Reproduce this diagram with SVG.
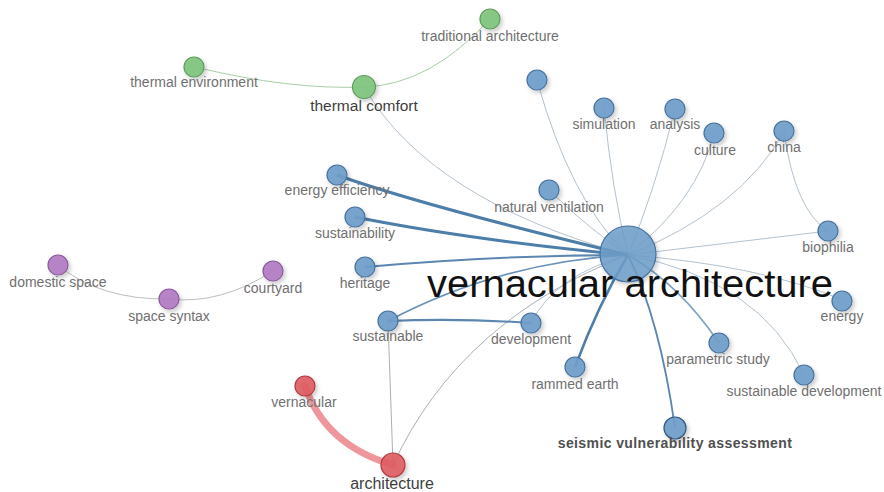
<svg xmlns="http://www.w3.org/2000/svg" width="884" height="492" viewBox="0 0 884 492">
<defs>
<filter id="sh" x="-50%" y="-50%" width="200%" height="200%">
<feDropShadow dx="2" dy="2.5" stdDeviation="2" flood-color="#000" flood-opacity="0.22"/>
</filter>
<style>
.lbl{font-family:"Liberation Sans",Arial,sans-serif;font-size:14px;fill:#707070;text-anchor:middle}
.big{font-family:"Liberation Sans",Arial,sans-serif;font-size:38px;fill:#111;text-anchor:start}
.dk{fill:#3e3e3e}
.bold{font-weight:bold;fill:#505050;letter-spacing:0.4px}
.nb{fill:#6f9dca;stroke:#47729d;stroke-width:1.2;fill-opacity:0.92;filter:url(#sh)}
.ng{fill:#80c47e;stroke:#5e9d5c;stroke-width:1.2;fill-opacity:0.92;filter:url(#sh)}
.np{fill:#b37cc4;stroke:#8a5b9b;stroke-width:1.2;fill-opacity:0.92;filter:url(#sh)}
.nr{fill:#e05c62;stroke:#b13a40;stroke-width:1.2;fill-opacity:0.9;filter:url(#sh)}
#connectors path{fill:none}
.t{stroke:#b3c2d0;stroke-width:1}
.tg{stroke:#a8cda6;stroke-width:1}
.tp{stroke:#bdbdbd;stroke-width:1}
.ta{stroke:#a9b0b8;stroke-width:1}
.s1{stroke:#6a92b9;stroke-width:1.6}
.s2{stroke:#5a86b1;stroke-width:2}
.s3{stroke:#4d7da9;stroke-width:3}
</style>
</defs>
<rect width="884" height="492" fill="#fff"/>
<g id="connectors">
<path class="tg" d="M195,67 Q290,90 364,87"/>
<path class="tg" d="M364,87 Q430,85 490,19"/>
<path class="t" d="M364,87 Q430,200 628,255"/>
<path class="tp" d="M58,265 Q100,300 169,299"/>
<path class="tp" d="M169,299 Q220,305 273,271"/>
<path d="M305,386 Q325,445 393,465" stroke="#ec8b90" stroke-width="7" stroke-linecap="round" opacity="0.9"/>
<path class="ta" d="M393,465 L388,321"/>
<path class="ta" d="M393,465 Q460,320 628,255"/>
<path class="s2" d="M388,321 Q460,318 531,323"/>
<path class="s1" d="M388,321 Q500,262 628,255"/>
<path class="t" d="M531,323 Q555,275 628,255"/>
<path class="s3" style="stroke-width:2.5" d="M575,367 Q598,305 628,255"/>
<path class="s2" style="stroke-width:1.8" d="M675,428 Q660,320 628,255"/>
<path class="s1" style="stroke:#7fa1c1" d="M719,343 Q680,285 628,255"/>
<path class="t" d="M804,375 Q760,280 628,255"/>
<path class="t" d="M843,300 Q760,265 628,255"/>
<path class="t" d="M828,231 L628,255"/>
<path class="t" d="M784,132 Q795,210 828,231"/>
<path class="t" d="M784,132 Q740,210 628,255"/>
<path class="t" d="M714,133 Q698,200 628,255"/>
<path class="t" d="M675,109 Q655,190 628,255"/>
<path class="t" d="M604,108 Q612,190 628,255"/>
<path class="t" d="M537,80 Q570,200 628,255"/>
<path class="t" d="M549,190 Q590,230 628,255"/>
<path class="s3" d="M337,175 Q420,205 628,255"/>
<path class="s3" d="M355,217 Q470,240 628,255"/>
<path class="s2" d="M365,267 Q500,255 628,255"/>
</g>
<g id="n-traditional-architecture"><circle class="ng" cx="490" cy="19" r="10"/><text class="lbl" x="490" y="41">traditional architecture</text></g>
<g id="n-thermal-environment"><circle class="ng" cx="194" cy="67" r="10"/><text class="lbl" x="194" y="87">thermal environment</text></g>
<g id="n-thermal-comfort"><circle class="ng" cx="364" cy="87" r="11.5"/><text class="lbl dk" x="364" y="111" style="font-size:15.5px">thermal comfort</text></g>
<g id="n-blue-unlabeled"><circle class="nb" cx="537" cy="80" r="10"/></g>
<g id="n-simulation"><circle class="nb" cx="604" cy="108" r="10"/><text class="lbl" x="604" y="129">simulation</text></g>
<g id="n-analysis"><circle class="nb" cx="675" cy="109" r="10"/><text class="lbl" x="675" y="129">analysis</text></g>
<g id="n-culture"><circle class="nb" cx="714" cy="133" r="10"/><text class="lbl" x="715" y="155">culture</text></g>
<g id="n-china"><circle class="nb" cx="784" cy="131" r="10"/><text class="lbl" x="784" y="152">china</text></g>
<g id="n-natural-ventilation"><circle class="nb" cx="549" cy="190" r="10"/><text class="lbl" x="549" y="212">natural ventilation</text></g>
<g id="n-energy-efficiency"><circle class="nb" cx="337" cy="175" r="10"/><text class="lbl" x="337" y="195">energy efficiency</text></g>
<g id="n-sustainability"><circle class="nb" cx="355" cy="217" r="10"/><text class="lbl" x="355" y="238">sustainability</text></g>
<g id="n-heritage"><circle class="nb" cx="365" cy="267" r="10"/><text class="lbl" x="365" y="288">heritage</text></g>
<g id="n-biophilia"><circle class="nb" cx="828" cy="231" r="10"/><text class="lbl" x="828" y="252">biophilia</text></g>
<g id="n-energy"><circle class="nb" cx="842" cy="301" r="10"/><text class="lbl" x="842" y="321">energy</text></g>
<g id="n-domestic-space"><circle class="np" cx="58" cy="265" r="10"/><text class="lbl" x="58" y="287">domestic space</text></g>
<g id="n-space-syntax"><circle class="np" cx="169" cy="299" r="10"/><text class="lbl" x="169" y="321">space syntax</text></g>
<g id="n-courtyard"><circle class="np" cx="273" cy="271" r="10"/><text class="lbl" x="273" y="293">courtyard</text></g>
<g id="n-sustainable"><circle class="nb" cx="388" cy="321" r="10"/><text class="lbl" x="388" y="341">sustainable</text></g>
<g id="n-development"><circle class="nb" cx="531" cy="323" r="10"/><text class="lbl" x="531" y="344">development</text></g>
<g id="n-rammed-earth"><circle class="nb" cx="575" cy="367" r="10"/><text class="lbl" x="575" y="389">rammed earth</text></g>
<g id="n-parametric-study"><circle class="nb" cx="719" cy="343" r="10"/><text class="lbl" x="718" y="364">parametric study</text></g>
<g id="n-sustainable-development"><circle class="nb" cx="804" cy="375" r="10"/><text class="lbl" x="804" y="396">sustainable development</text></g>
<g id="n-seismic"><circle class="nb" cx="675" cy="428" r="11" style="stroke:#33597f"/><text class="lbl bold" x="675" y="448">seismic vulnerability assessment</text></g>
<g id="n-vernacular"><circle class="nr" cx="305" cy="386" r="10"/><text class="lbl" x="304" y="407">vernacular</text></g>
<g id="n-architecture"><circle class="nr" cx="393" cy="465" r="12"/><text class="lbl dk" x="392" y="489" style="font-size:16px">architecture</text></g>
<g id="n-vernacular-architecture"><circle class="nb" cx="628" cy="254" r="28" style="fill-opacity:0.85"/><text class="big" x="427" y="297" textLength="406" lengthAdjust="spacingAndGlyphs">vernacular architecture</text></g>
</svg>
